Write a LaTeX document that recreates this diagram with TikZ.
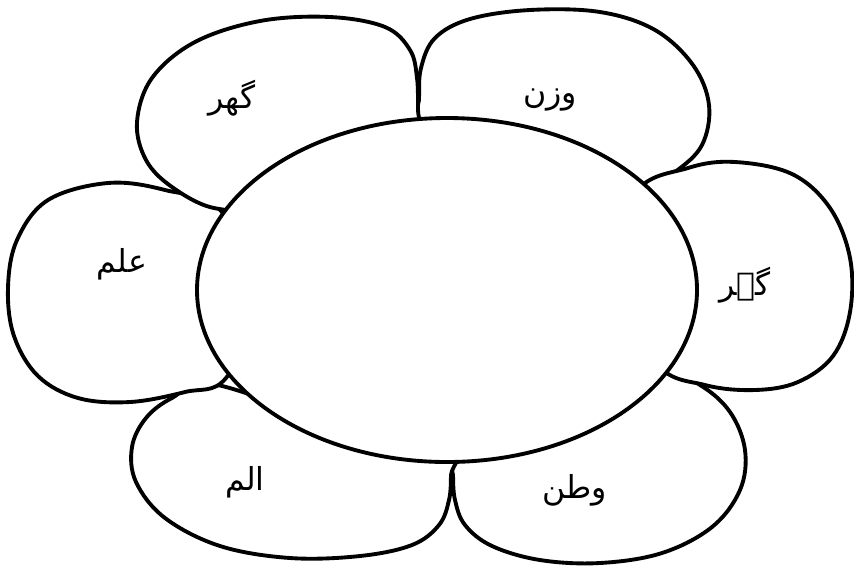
\documentclass[tikz,border=0pt]{standalone}
\usepackage{fontspec}
\newfontfamily\arabicfont[Script=Arabic]{DejaVu Sans}
\TeXXeTstate=1
\begin{document}
\begin{tikzpicture}[x=0.02cm,y=-0.02cm,
  petal/.style={draw=black,fill=white,line width=2.2pt,line join=round},
  lbl/.style={font=\arabicfont\fontsize{18}{22}\selectfont,inner sep=0pt}]
\useasboundingbox (0,0) rectangle (854,566);
% top-right petal
\draw[petal] plot[smooth cycle,tension=0.6] coordinates {(419,140) (419,100) (421,68) (435,38) (470,19) (530,10) (600,12) (655,30) (693,65) (709,105) (702,145) (675,172) (640,192) (550,180)};
% bottom-right petal
\draw[petal] plot[smooth cycle,tension=0.6] coordinates {(453,440) (453,475) (455,500) (465,525) (492,546) (540,560) (600,563) (662,553) (712,527) (740,490) (745,450) (730,412) (700,385) (660,370) (560,420)};
% bottom-left petal
\draw[petal] plot[smooth cycle,tension=0.6] coordinates {(451,440) (451,475) (449,500) (439,525) (412,545) (360,556) (290,558) (220,546) (165,518) (136,482) (132,447) (146,418) (172,398) (212,384) (330,420)};
% left petal
\draw[petal] plot[smooth cycle,tension=0.6] coordinates {(260,300) (226,378) (185,392) (130,402) (78,398) (38,376) (14,336) (8,288) (17,240) (48,200) (108,183) (165,190) (222,212)};
% top-left petal
\draw[petal] plot[smooth cycle,tension=0.6] coordinates {(380,170) (262,205) (214,208) (172,187) (146,160) (137,122) (152,78) (195,42) (260,21) (330,17) (385,27) (410,50) (417,78) (418,110) (418,140)};
% right petal
\draw[petal] plot[smooth cycle,tension=0.6] coordinates {(620,280) (636,193) (688,168) (735,162) (792,174) (830,208) (850,258) (850,312) (833,356) (798,382) (755,390) (705,385) (657,364)};
% centre
\coordinate (c) at (447,290);
\draw[petal] (c) ellipse [x radius=250, y radius=172];
\node[lbl] (t1) at (232,98) {\beginR گھر\endR};
\node[lbl] (t2) at (550,100) {\beginR وزن\endR};
\node[lbl] (t3) at (745,285) {\beginR گہر\endR};
\node[lbl] (t4) at (122,264) {\beginR علم\endR};
\node[lbl] (t5) at (245,482) {\beginR الم\endR};
\node[lbl] (t6) at (575,490) {\beginR وطن\endR};
\end{tikzpicture}
\end{document}
